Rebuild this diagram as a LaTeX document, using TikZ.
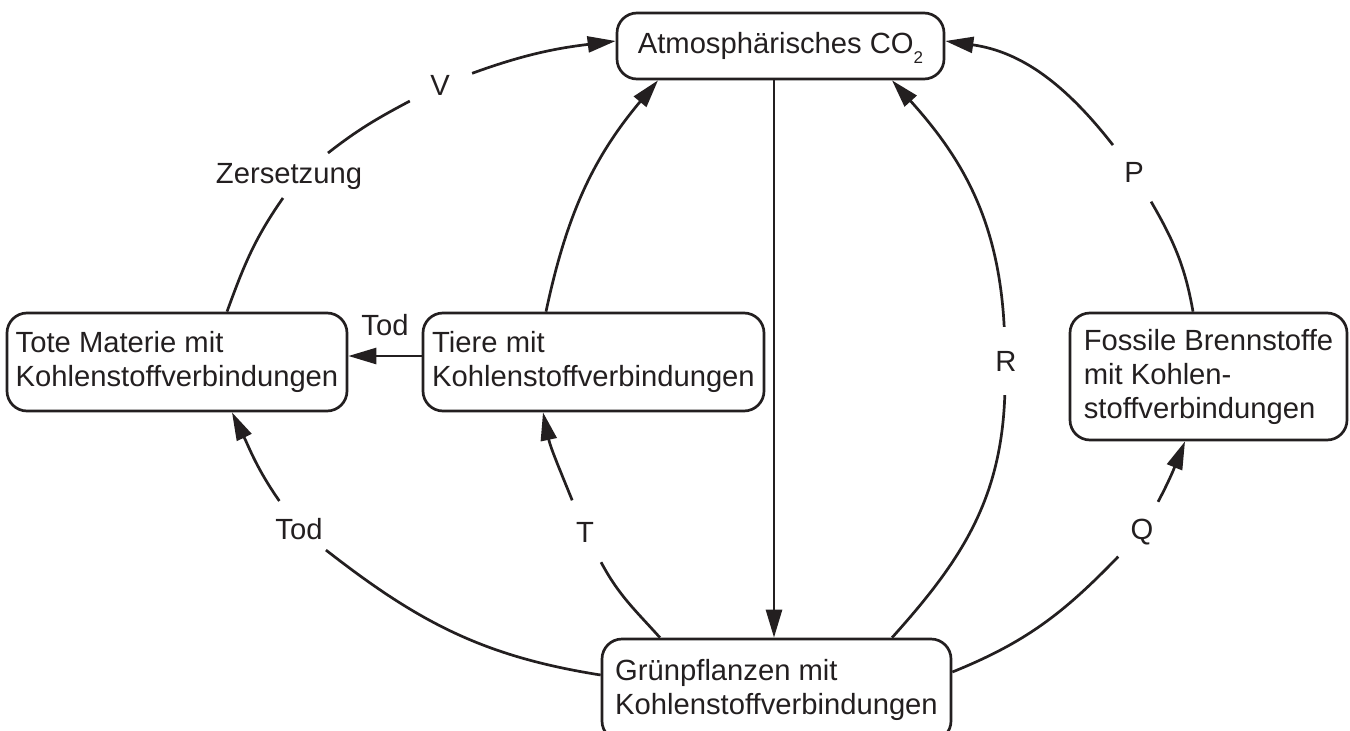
\documentclass[tikz,border=0pt]{standalone}
\usepackage{fontspec}
\setmainfont{Liberation Sans}
\usetikzlibrary{arrows.meta}
\definecolor{ink}{HTML}{231F20}
\begin{document}
\begin{tikzpicture}[x=1pt,y=1pt,
  every node/.style={text=ink, font=\fontsize{29.2}{34}\selectfont},
  box/.style={draw=ink, line width=2.7pt, rounded corners=20pt, align=left, inner sep=0pt},
  lab/.style={circle, minimum size=68pt, inner sep=0pt},
  conn/.style={draw=ink, line width=2.7pt},
  arr/.style={conn, -{Triangle[length=28pt,width=16pt]}}
]
\useasboundingbox (0,0) rectangle (1350,-731);
\clip (0,0) rectangle (1350,-731);

% boxes
\node[box, minimum width=327pt, minimum height=66pt, align=center] (co2) at (780.5,-46)
  {Atmosphärisches CO\raisebox{-10pt}[0pt][0pt]{\fontsize{17}{17}\selectfont 2}};
\node[box, minimum width=340pt, minimum height=98pt] (tote) at (177,-362)
  {Tote Materie mit\\Kohlenstoffverbindungen};
\node[box, minimum width=341pt, minimum height=98pt] (tiere) at (593.5,-362)
  {Tiere mit\\Kohlenstoffverbindungen};
\node[box, minimum width=349pt, minimum height=102pt] (grun) at (776.5,-690)
  {Grünpflanzen mit\\Kohlenstoffverbindungen};
\node[box, minimum width=277pt, minimum height=127pt] (fossil) at (1208.5,-376.5)
  {Fossile Brennstoffe\\mit Kohlen-\\stoffverbindungen};

% labels on arcs
\node[inner sep=0pt] (zers) at (289,-176.5) {Zersetzung};
\node[lab] (vl) at (440,-85) {V};
\node[lab] (pl) at (1134,-172) {P};
\node[lab] (rl) at (1006,-361) {R};
\node[lab] (ql) at (1142,-532) {Q};
\node[lab] (tl) at (585,-532) {T};
\node[lab] (todl) at (299,-529) {Tod};

% CO2 -> Gruenpflanzen
\draw[arr] ([xshift=-6.5pt]co2.south) -- ([xshift=-6.5pt]co2.south |- grun.north);

% Zersetzung / V
\draw[conn] ([xshift=50pt]tote.north) to[out=70,in=235] ([xshift=-6pt,yshift=-21.5pt]zers.center);
\draw[conn] ([xshift=39pt,yshift=23.5pt]zers.center) to[out=38,in=208] (vl);
\draw[arr] (vl) to[out=20,in=187] ([yshift=5pt]co2.west);

% Tiere -> CO2
\draw[arr] ([xshift=-47.5pt]tiere.north) to[out=78,in=230] ([xshift=-122.5pt]co2.south);

% Tiere -> Tote
\draw[arr] ([yshift=6pt]tiere.west) -- node[yshift=31pt] (todtop) {Tod} ([yshift=6pt]tote.east);

% Gruen -> Tote (Tod)
\draw[conn] ([yshift=15pt]grun.west) to[out=171,in=-38] (todl);
\draw[arr] (todl) to[out=125,in=-64] ([xshift=55pt]tote.south);

% Gruen -> Tiere (T)
\draw[conn] ([xshift=-116.5pt]grun.north) to[out=132,in=-62] (tl);
\draw[arr] (tl) to[out=112,in=-78] ([xshift=-50.5pt]tiere.south);

% Gruen -> CO2 (R)
\draw[conn] ([xshift=115.5pt]grun.north) to[out=48,in=-92] (rl);
\draw[arr] (rl) to[out=93,in=-48] ([xshift=111.5pt]co2.south);

% Fossile -> CO2 (P)
\draw[conn] ([xshift=-15.5pt]fossil.north) to[out=100,in=-60] (pl);
\draw[arr] (pl) to[out=128,in=-8] ([yshift=5pt]co2.east);

% Gruen -> Fossile (Q)
\draw[conn] ([yshift=18pt]grun.east) to[out=22,in=226] (ql);
\draw[arr] (ql) to[out=62,in=248] ([xshift=-23.5pt]fossil.south);
\end{tikzpicture}
\end{document}
